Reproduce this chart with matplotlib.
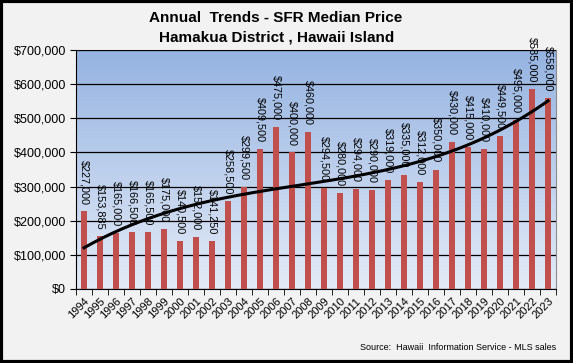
import numpy as np
import matplotlib
matplotlib.use("Agg")
import matplotlib.pyplot as plt
from matplotlib.ticker import FuncFormatter

years = [str(y) for y in range(1994, 2024)]
prices = [227000, 153885, 165000, 166500, 165500, 175000, 140500, 152000, 141250,
          258500, 299500, 409500, 475000, 400000, 460000, 294500, 280000, 294000,
          290000, 319000, 335000, 312000, 350000, 430000, 415000, 410000, 449500,
          495000, 585000, 558000]
value_labels = ["$227,000", "$153,885", "$165,000", "$166,500", "$165,500", "$175,000",
                "$140,500", "$152,000", "$141,250", "$258,500", "$299,500", "$409,500",
                "$475,000", "$400,000", "$460,000", "$294,500", "$280,000", "$294,000",
                "$290,000", "$319,000", "$335,000", "$312,000", "$350,000", "$430,000",
                "$415,000", "$410,000", "$449,500", "$495,000", "$585,000", "$558,000"]
y_ticks = [0, 100000, 200000, 300000, 400000, 500000, 600000, 700000]

plt.rcParams['font.family'] = ['Liberation Sans', 'DejaVu Sans']

fig = plt.figure(figsize=(5.73, 3.63), dpi=100, facecolor='#f2f2f2')
ax = fig.add_axes([76/573, 1 - 289/363, (556-76)/573, (289-50)/363])

# gradient background
grad = np.linspace(0, 1, 256).reshape(-1, 1)
top = np.array([149, 179, 225]) / 255
bot = np.array([228, 235, 247]) / 255
img = top[None, None, :] * (1 - grad[:, :, None]) + bot[None, None, :] * grad[:, :, None]
ax.imshow(img, extent=[0, 1, 0, 1], transform=ax.transAxes, aspect='auto', zorder=0)

x = np.arange(len(years))
ax.bar(x, prices, width=0.38, color='#c0504d', zorder=3)

for xi, p, lab in zip(x, prices, value_labels):
    ax.text(xi, p + 20000, lab, rotation=270, ha='center', va='bottom',
            fontsize=7.8, color='black', zorder=5)

# cubic trend line
coef = np.polyfit(x, prices, 3)
xs = np.linspace(0, len(years) - 1, 200)
ax.plot(xs, np.polyval(coef, xs), color='black', lw=2.2, zorder=4)

ax.set_xlim(-0.5, len(years) - 0.5)
ax.set_ylim(0, 700000)
ax.set_yticks(y_ticks)
ax.yaxis.set_major_formatter(FuncFormatter(lambda v, pos: "$" + format(int(v), ",")))
ax.grid(axis='y', color='black', lw=0.9, zorder=2)
ax.set_axisbelow(False)

ax.set_xticks(x)
ax.set_xticklabels(years, rotation=45, ha='right', rotation_mode='anchor', fontsize=8)
ax.set_xticks(np.arange(-0.5, len(years)), minor=True)
ax.tick_params(axis='x', which='major', length=0, pad=5)
ax.tick_params(axis='x', which='minor', length=4, color='black')
ax.tick_params(axis='y', length=4, color='black', labelsize=9, pad=3)

for s in ['top', 'right']:
    ax.spines[s].set_color('#8c8c8c')
    ax.spines[s].set_linewidth(0.8)
ax.spines['left'].set_color('black')
ax.spines['bottom'].set_color('black')

fig.text(276/573, 1 - 18/363, "Annual  Trends - SFR Median Price",
         ha='center', va='center', fontsize=11, fontweight='bold')
fig.text(277/573, 1 - 37/363, "Hamakua District , Hawaii Island",
         ha='center', va='center', fontsize=11, fontweight='bold')
fig.text(556/573, 1 - 348/363, "Source:  Hawaii  Information Service - MLS sales",
         ha='right', va='center', fontsize=6.5)

# outer border
fig.patches.append(plt.Rectangle((0.002, 0.003), 0.996, 0.994, transform=fig.transFigure,
                                 fill=False, edgecolor='black', lw=3))

fig.savefig("out.png", dpi=100, facecolor=fig.get_facecolor())
